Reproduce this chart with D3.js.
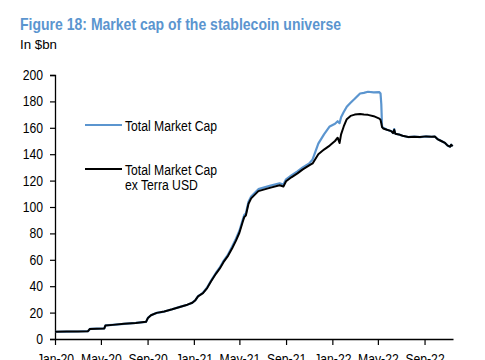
<!DOCTYPE html>
<html>
<head>
<meta charset="utf-8">
<script src="https://cdn.jsdelivr.net/npm/d3@7"></script>
<style>
  html, body { margin: 0; padding: 0; background: #fff; }
  svg { display: block; }
  text { font-family: "Liberation Sans", Arial, sans-serif; }
</style>
</head>
<body>
<svg id="chart" width="485" height="360"></svg>
<script>
// ---- Data ----
const dates = [
  "2020-01-01","2020-02-01","2020-03-01","2020-03-28","2020-04-02","2020-04-20","2020-05-10","2020-05-13",
  "2020-06-01","2020-07-01","2020-08-01","2020-08-28","2020-09-02","2020-09-10","2020-09-25","2020-10-15",
  "2020-11-05","2020-11-25","2020-12-15","2020-12-28","2021-01-05","2021-01-12","2021-01-25","2021-02-05",
  "2021-02-15","2021-02-28","2021-03-10","2021-03-20","2021-04-01","2021-04-12","2021-04-22","2021-05-01",
  "2021-05-10","2021-05-14","2021-05-18","2021-05-25","2021-06-01","2021-06-20","2021-07-20","2021-08-15",
  "2021-08-25","2021-09-01","2021-09-15","2021-10-01","2021-10-15","2021-11-01","2021-11-10","2021-11-25",
  "2021-12-10","2021-12-25","2022-01-08","2022-01-15","2022-01-20","2022-01-24","2022-01-31","2022-02-08",
  "2022-02-18","2022-03-01","2022-03-15","2022-03-25","2022-04-05","2022-04-20","2022-05-05","2022-05-08",
  "2022-05-10","2022-05-12","2022-05-15","2022-05-25","2022-06-05","2022-06-10","2022-06-13","2022-06-16",
  "2022-06-25","2022-07-05","2022-07-20","2022-08-05","2022-08-20","2022-09-05","2022-09-20","2022-09-28",
  "2022-10-05","2022-10-15","2022-10-25","2022-11-01","2022-11-07","2022-11-10","2022-11-14"
];
const totalMarketCap = [
  5.5,5.6,5.7,5.9,7.6,7.8,8.0,10.3,
  10.7,11.5,12.2,13.0,16.0,18.0,19.8,20.8,
  22.5,24.3,26.0,27.5,29.5,32.5,35,39,
  44,50,54,59,64,70,76,82,
  90.5,94,95,104,108,113.5,116,118,
  117,121,124,127,130,133,136,148,
  155,161,163,165,163.5,168,172,176,
  179,182,186,186.5,187.3,186.8,187,186,
  178,161,160,158.5,157.5,156,159,155.5,
  155,154,153,153.3,153,153.5,153.2,153.4,
  151.5,150,148.5,146.5,145.7,147.2,146
];
const exTerraMarketCap = [
  5.5,5.6,5.7,5.9,7.6,7.8,8.0,10.3,
  10.7,11.5,12.2,13.0,16.0,18.0,19.8,20.8,
  22.5,24.3,26.0,27.5,29.4,32.3,34.7,38.6,
  43.5,49.4,53.3,58.2,63,68.8,74.5,80.5,
  89,92.5,93.5,102.5,106.5,112,114.5,116.5,
  115.5,119.5,122.5,125.5,128.5,131.5,133,140,
  143.5,146.5,150,152.5,148.5,155,161,166.5,
  169,170,170.5,170,169.8,168.8,167,166,
  163.5,160.5,159.5,158.5,157.5,156,158.5,155.5,
  155,154,153,153.3,153,153.5,153.2,153.4,
  151.5,150,148.5,146.5,145.7,147.2,146
];
const yTicks = [0,20,40,60,80,100,120,140,160,180,200];
const xTickDates = ["2020-01-01","2020-05-01","2020-09-01","2021-01-01","2021-05-01","2021-09-01","2022-01-01","2022-05-01","2022-09-01"];
const seriesNames = ["Total Market Cap", "Total Market Cap|ex Terra USD"];
const seriesColors = ["#5b95cf", "#000000"];

// ---- Drawing ----
const parse = d3.timeParse("%Y-%m-%d");
const fmt = d3.timeFormat("%b-%y");
const svg = d3.select("#chart");

const mLeft = 55, mRight = 453, mTop = 75, mBottom = 339;
const squeeze = 0.87; // reference text is horizontally condensed

// condense text horizontally around its own anchor point
function condense(sel) {
  sel.each(function () {
    const t = d3.select(this);
    const x0 = +(t.attr("x") || 0);
    t.attr("x", x0 / squeeze).attr("transform", `scale(${squeeze},1)`);
  });
}

const x = d3.scaleTime()
  .domain([parse("2020-01-01"), parse("2022-11-15")])
  .range([mLeft, mRight]);
const y = d3.scaleLinear().domain([0, 200]).range([mBottom, mTop]);

// Title
svg.append("text")
  .attr("x", 20).attr("y", 30)
  .attr("fill", "#5b95cf")
  .attr("font-weight", "bold")
  .attr("font-size", 17)
  .attr("textLength", 321).attr("lengthAdjust", "spacingAndGlyphs")
  .text("Figure 18: Market cap of the stablecoin universe");
svg.append("text")
  .attr("x", 20).attr("y", 49)
  .attr("fill", "#000")
  .attr("font-size", 13.5)
  .attr("textLength", 37).attr("lengthAdjust", "spacingAndGlyphs")
  .text("In $bn");

// Y axis
const yAxis = svg.append("g")
  .attr("transform", `translate(${mLeft},0)`)
  .call(d3.axisLeft(y).tickValues(yTicks).tickSize(5).tickPadding(7));
yAxis.select(".domain").attr("stroke", "#000").attr("stroke-width", 1.3);
yAxis.selectAll(".tick line").attr("stroke", "#000").attr("stroke-width", 1.2);
yAxis.selectAll(".tick text").attr("font-size", 14).attr("fill", "#000")
  .attr("font-family", "'Liberation Sans',Arial,sans-serif").call(condense);

// X axis
const xAxis = svg.append("g")
  .attr("transform", `translate(0,${mBottom})`)
  .call(d3.axisBottom(x).tickValues(xTickDates.map(parse)).tickFormat(fmt).tickSize(6).tickPadding(9).tickSizeOuter(0));
xAxis.select(".domain").attr("stroke", "#000").attr("stroke-width", 1.3);
xAxis.selectAll(".tick line").attr("stroke", "#000").attr("stroke-width", 1.2);
xAxis.selectAll(".tick text").attr("font-size", 14).attr("fill", "#000")
  .attr("font-family", "'Liberation Sans',Arial,sans-serif").call(condense);

// Lines
const line = d3.line()
  .x((d, i) => x(parse(dates[i])))
  .y(d => y(d));

svg.append("path")
  .datum(totalMarketCap)
  .attr("fill", "none")
  .attr("stroke", seriesColors[0])
  .attr("stroke-width", 2.2)
  .attr("stroke-linejoin", "round")
  .attr("d", line);

svg.append("path")
  .datum(exTerraMarketCap)
  .attr("fill", "none")
  .attr("stroke", seriesColors[1])
  .attr("stroke-width", 2)
  .attr("stroke-linejoin", "round")
  .attr("d", line);

// Legend
const legendY = [125, 169];
seriesNames.forEach((name, i) => {
  const g = svg.append("g");
  g.append("line")
    .attr("x1", 85).attr("x2", 122)
    .attr("y1", legendY[i]).attr("y2", legendY[i])
    .attr("stroke", seriesColors[i]).attr("stroke-width", 2);
  name.split("|").forEach((part, j) => {
    g.append("text")
      .attr("x", 125).attr("y", legendY[i] + 6 + j * 15.5)
      .attr("font-size", 14).attr("fill", "#000")
      .text(part).call(condense);
  });
});
</script>
</body>
</html>
